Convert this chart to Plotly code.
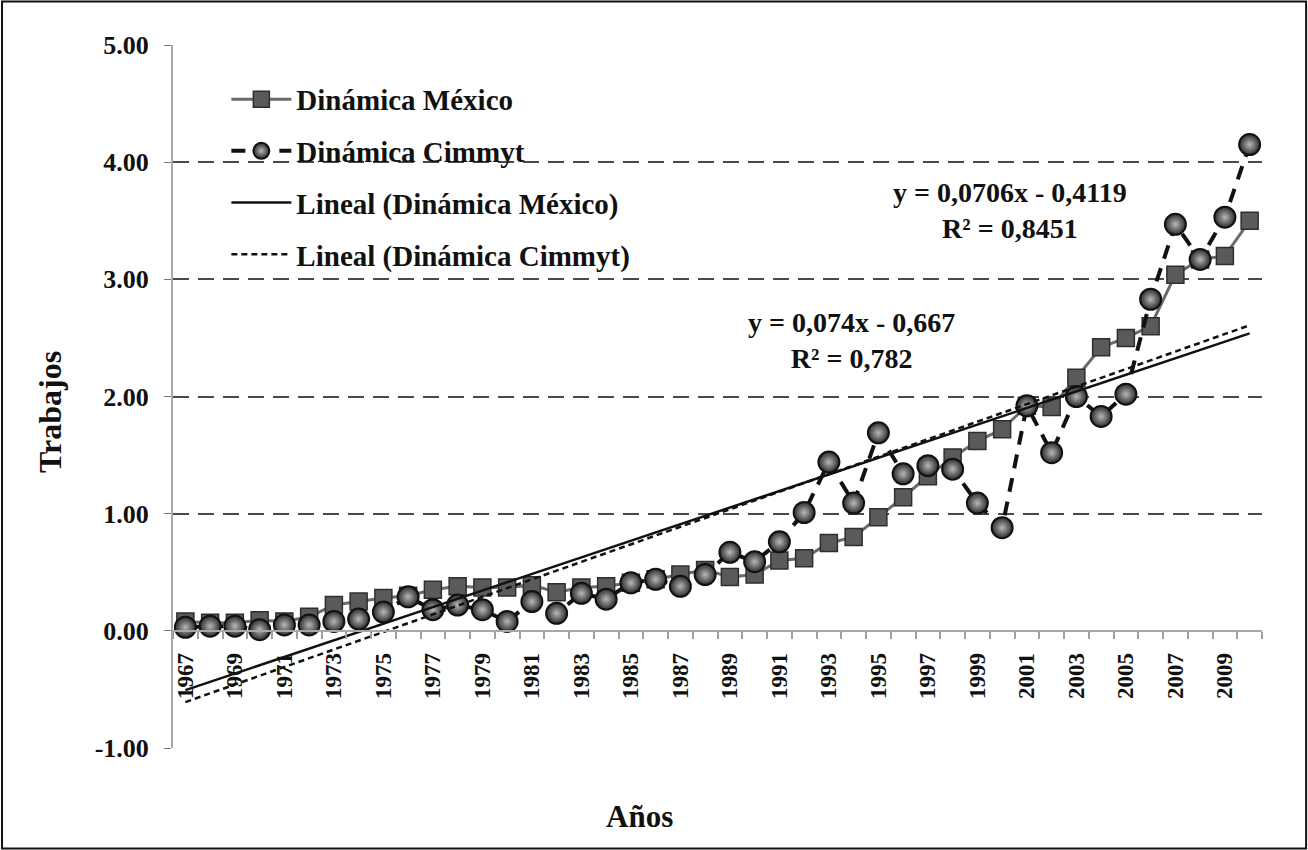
import numpy as np
import plotly.graph_objects as go

years = list(range(1967, 2011))

mexico = [0.08, 0.07, 0.07, 0.09, 0.08, 0.12, 0.22, 0.25, 0.28, 0.30,
          0.35, 0.38, 0.37, 0.37, 0.39, 0.33, 0.37, 0.38, 0.41, 0.44,
          0.48, 0.52, 0.46, 0.48, 0.60, 0.62, 0.75, 0.80, 0.97, 1.14,
          1.32, 1.48, 1.62, 1.72, 1.92, 1.91, 2.16, 2.42, 2.50, 2.60,
          3.04, 3.17, 3.20, 3.50]

cimmyt = [0.03, 0.04, 0.04, 0.01, 0.05, 0.05, 0.08, 0.10, 0.16, 0.29,
          0.18, 0.22, 0.18, 0.08, 0.25, 0.15, 0.32, 0.27, 0.41, 0.44,
          0.38, 0.48, 0.67, 0.59, 0.76, 1.01, 1.44, 1.09, 1.69, 1.34,
          1.41, 1.38, 1.09, 0.88, 1.92, 1.52, 2.00, 1.83, 2.02, 2.83,
          3.47, 3.17, 3.53, 4.15]

tick_years = list(range(1967, 2010, 2))
y_ticks = [-1, 0, 1, 2, 3, 4, 5]
y_tick_text = ["-1.00", "0.00", "1.00", "2.00", "3.00", "4.00", "5.00"]

eq_mexico = "y = 0,0706x - 0,4119<br>R² = 0,8451"
eq_cimmyt = "y = 0,074x - 0,667<br>R² = 0,782"

idx = np.arange(1, len(years) + 1)
fit_m = np.polyfit(idx, mexico, 1)
fit_c = np.polyfit(idx, cimmyt, 1)
trend_m = np.polyval(fit_m, idx)
trend_c = np.polyval(fit_c, idx)

SERIF = "Liberation Serif"

fig = go.Figure()

fig.add_trace(go.Scatter(
    x=years, y=mexico, name="Dinámica México", mode="lines+markers",
    line=dict(color="#6a6a6a", width=3),
    marker=dict(symbol="square", size=17, color="#5a5a5a",
                line=dict(color="#2e2e2e", width=1.5)),
    legendgroup="a"))

fig.add_trace(go.Scatter(
    x=years, y=cimmyt, name="Dinámica Cimmyt", mode="lines+markers",
    line=dict(color="#111111", width=4, dash="14px,10px"),
    marker=dict(symbol="circle", size=21, color="#2a2a2a",
                gradient=dict(type="radial", color="#b8b8b8"),
                line=dict(color="#111111", width=2)),
    legendgroup="b"))

fig.add_trace(go.Scatter(
    x=years, y=trend_m, name="Lineal (Dinámica México)", mode="lines",
    line=dict(color="#111111", width=2.5), legendgroup="c"))

fig.add_trace(go.Scatter(
    x=years, y=trend_c, name="Lineal (Dinámica Cimmyt)", mode="lines",
    line=dict(color="#111111", width=2.5, dash="6px,4px"), legendgroup="d"))

fig.update_layout(
    width=1308, height=850, autosize=False,
    margin=dict(l=173, r=46, t=45, b=102),
    paper_bgcolor="white", plot_bgcolor="white",
    font=dict(family=SERIF, color="#111111", weight="bold"),
    showlegend=True,
    legend=dict(x=0.049, y=0.959, xanchor="left", yanchor="top",
                bgcolor="rgba(0,0,0,0)", tracegroupgap=11,
                font=dict(family=SERIF, size=29, color="#111111", weight="bold"),
                itemwidth=60),
    xaxis=dict(range=[1966.5, 2010.5], tickvals=tick_years,
               ticktext=[str(y) for y in tick_years],
               tickangle=-90, ticks="", showgrid=False, zeroline=False,
               showline=True, linecolor="#a8a8a8", linewidth=2,
               anchor="free", position=1 / 6, ticklabelstandoff=12,
               tickfont=dict(family=SERIF, size=23, color="#111111", weight="bold"),
               minor=dict(tick0=1966.5, dtick=1, ticks="outside", ticklen=7,
                          tickcolor="#a0a0a0", tickwidth=1.5, showgrid=False)),
    yaxis=dict(range=[-1, 5], tickvals=y_ticks, ticktext=y_tick_text,
               showgrid=True, griddash="16px,9px", gridcolor="#4a4a4a", gridwidth=1.5,
               zeroline=False, showline=True, linecolor="#a8a8a8", linewidth=2,
               ticks="outside", ticklen=7, tickcolor="#777777", ticklabelstandoff=10,
               tickfont=dict(family=SERIF, size=26, color="#111111", weight="bold")),
)

fig.add_annotation(x=2000.3, y=3.59, xref="x", yref="y", text=eq_mexico,
                   showarrow=False, align="center",
                   font=dict(family=SERIF, size=28, color="#111111", weight="bold"))
fig.add_annotation(x=1993.9, y=2.48, xref="x", yref="y", text=eq_cimmyt,
                   showarrow=False, align="center",
                   font=dict(family=SERIF, size=28, color="#111111", weight="bold"))

fig.add_annotation(x=-0.113, y=0.478, xref="paper", yref="paper", text="Trabajos",
                   textangle=-90, showarrow=False, xanchor="center", yanchor="middle",
                   font=dict(family=SERIF, size=32, color="#111111", weight="bold"))
fig.add_annotation(x=0.4288, y=-0.0981, xref="paper", yref="paper", text="Años",
                   showarrow=False, xanchor="center", yanchor="middle",
                   font=dict(family=SERIF, size=31, color="#111111", weight="bold"))

fig.add_shape(type="rect", xref="paper", yref="paper",
              x0=-0.1570, x1=1.0405, y0=-0.1430, y1=1.0620,
              line=dict(color="#111111", width=2), fillcolor="rgba(0,0,0,0)")

fig.write_html("out.html", config={"displayModeBar": False},
               post_script="document.body.style.margin='0px';document.body.style.overflow='hidden';")
